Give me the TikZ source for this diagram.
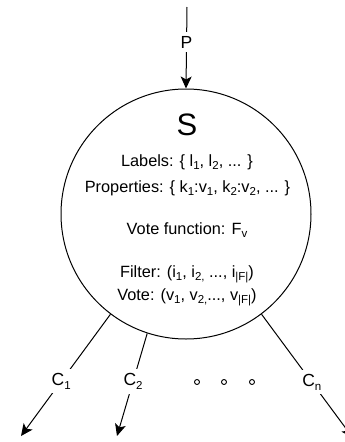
\documentclass[tikz,border=0pt]{standalone}
\usepackage{fontspec}
\setmainfont{Liberation Sans}
\usetikzlibrary{arrows.meta}
\newcommand\sbs[1]{\raisebox{-0.45ex}{\fontsize{11.5}{12}\selectfont #1}}
\tikzset{
  conn/.style={line width=1pt,-{Stealth[length=12pt,width=11pt,inset=3pt]}},
  lbl/.style={fill=white,inner sep=4pt,font=\fontsize{17.5}{19}\selectfont},
  txt/.style={anchor=base,inner sep=0pt,font=\fontsize{16.3}{18}\selectfont},
  dotc/.style={circle,draw,line width=0.9pt,minimum size=5pt,inner sep=0pt}
}
\begin{document}
\begin{tikzpicture}[x=1pt,y=-1pt]
\useasboundingbox (0,0) rectangle (345,442);
\node[circle,draw,line width=1pt,minimum size=250pt,inner sep=0pt] (S) at (186,214) {};
\node[anchor=base,inner sep=0pt,font=\fontsize{31}{34}\selectfont] (stitle) at (187,135) {S};
\node[txt] (t1) at (187,166) {Labels: \{ l\sbs{1}, l\sbs{2}, ... \}};
\node[txt] (t2) at (187.5,192) {Properties: \{ k\sbs{1}:v\sbs{1}, k\sbs{2}:v\sbs{2}, ... \}};
\node[txt] (t3) at (187,234) {Vote function: F\sbs{v}};
\node[txt] (t4) at (187,277) {Filter: (i\sbs{1}, i\sbs{2,} ..., i\sbs{|F|})};
\node[txt] (t5) at (187,300) {Vote: (v\sbs{1}, v\sbs{2,}..., v\sbs{|F|})};
\coordinate (ptop) at (187,7);
\coordinate (e1) at (21,436);
\coordinate (e2) at (117,436);
\coordinate (en) at (353,438);
\draw[conn] (ptop) -- node[lbl,pos=0.43] {P} (S.north);
\draw[conn] (S.233.4) -- node[lbl,pos=0.55] {C\sbs{1}} (e1);
\draw[conn] (S.252.4) -- node[lbl,pos=0.47] {C\sbs{2}} (e2);
\draw[conn] (S.307) -- node[lbl,pos=0.55] {C\sbs{n}} (en);
\node[dotc] (d1) at (197,382) {};
\node[dotc] (d2) at (224,382) {};
\node[dotc] (d3) at (252,382) {};
\end{tikzpicture}
\end{document}
